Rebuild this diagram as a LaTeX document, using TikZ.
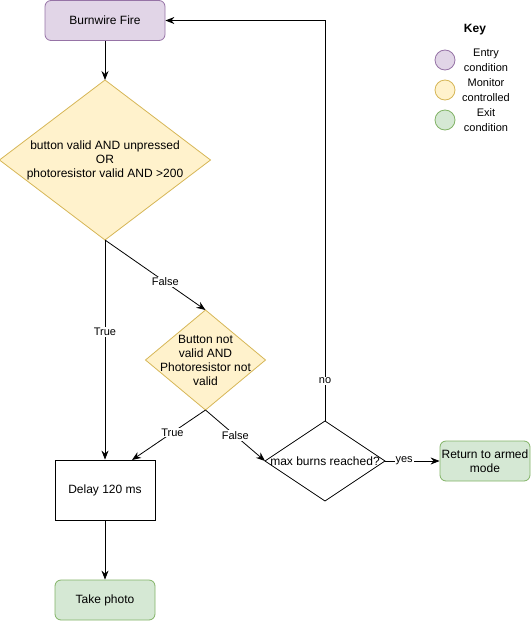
\documentclass[tikz,border=0pt]{standalone}
\usepackage{fontspec}
\setmainfont{Liberation Sans}
\usetikzlibrary{arrows.meta}
\definecolor{purpf}{HTML}{E1D5E7}\definecolor{purps}{HTML}{9673A6}
\definecolor{yelf}{HTML}{FFF2CC}\definecolor{yels}{HTML}{D6B656}
\definecolor{grnf}{HTML}{D5E8D4}\definecolor{grns}{HTML}{82B366}
\begin{document}
\begin{tikzpicture}[x=1pt,y=-1pt,
  every node/.style={font=\fontsize{12}{14}\selectfont,inner sep=0pt,align=center},
  box/.style={draw,rectangle,minimum width=#1,line width=0.8pt},
  entry/.style={box=120pt,minimum height=40pt,rounded corners=6pt,fill=purpf,draw=purps},
  exitbox/.style={rectangle,draw,line width=0.8pt,rounded corners=6pt,fill=grnf,draw=grns},
  arr/.style={draw,line width=0.8pt,-{Stealth[length=9pt,width=7pt,inset=3pt]}},
  lab/.style={fill=white,font=\fontsize{11}{13}\selectfont,inner sep=1pt},
  keydot/.style={circle,minimum size=20pt,line width=0.8pt}
]
\useasboundingbox (0,0) rectangle (531,621);
\node[entry] (fire) at (105,20.5) {Burnwire Fire};
\path (105,80) coordinate (d1t) (105,240) coordinate (d1b);
\filldraw[yels,fill=yelf,line width=0.8pt] (105,80) -- (210.5,160) -- (105,240) -- (-0.5,160) -- cycle;
\node (d1) at (105,160) {button valid AND unpressed\\OR\\photoresistor valid AND >200};
\filldraw[yels,fill=yelf,line width=0.8pt] (205.5,310) -- (265.5,360) -- (205.5,410) -- (145.5,360) -- cycle;
\path (205.5,310) coordinate (d2t) (205.5,410) coordinate (d2b);
\node (d2) at (205.5,360) {Button not\\valid AND\\Photoresistor not\\valid};
\draw[line width=0.8pt,fill=white] (325,421) -- (385,461) -- (325,501) -- (265,461) -- cycle;
\path (325,421) coordinate (d3t) (385,461) coordinate (d3r) (265,461) coordinate (d3l);
\node (d3) at (325,461) {max burns reached?};
\node[box=100pt,minimum height=60pt,fill=white] (delay) at (105,490) {Delay 120 ms};
\node[exitbox,minimum width=100pt,minimum height=40pt] (photo) at (105,600) {Take photo};
\node[exitbox,minimum width=90pt,minimum height=40pt] (ret) at (485,461) {Return to armed\\mode};
\coordinate (delayin) at (132,460);
\coordinate (corner) at (325,20.5);
% connectors
\draw[arr] (fire.south) -- (d1t);
\draw[arr] (d1b) -- node[lab,pos=0.42]{True} (delay.north);
\draw[arr] (d1b) -- node[lab,pos=0.6]{False} (d2t);
\draw[arr] (d2b) -- node[lab,pos=0.45]{True} (delayin);
\draw[arr] (d2b) -- node[lab,pos=0.5]{False} (d3l);
\draw[arr] (d3r) -- node[lab,pos=0.35]{yes} (ret.west);
\draw[arr] (d3t) -- node[lab,pos=0.1]{no} (corner) -- (fire.east);
\draw[arr] (delay.south) -- (photo.north);
% key
\node[font=\bfseries\fontsize{12}{14}\selectfont] (key) at (475,30) {Key};
\node[keydot,fill=purpf,draw=purps] (k1) at (445,60) {};
\node[keydot,fill=yelf,draw=yels] (k2) at (445,90) {};
\node[keydot,fill=grnf,draw=grns] (k3) at (445,120) {};
\node[font=\fontsize{11}{15}\selectfont] (t1) at (486,60) {Entry\\condition};
\node[font=\fontsize{11}{15}\selectfont] (t2) at (486,90) {Monitor\\controlled};
\node[font=\fontsize{11}{15}\selectfont] (t3) at (486,120) {Exit\\condition};
\end{tikzpicture}
\end{document}
